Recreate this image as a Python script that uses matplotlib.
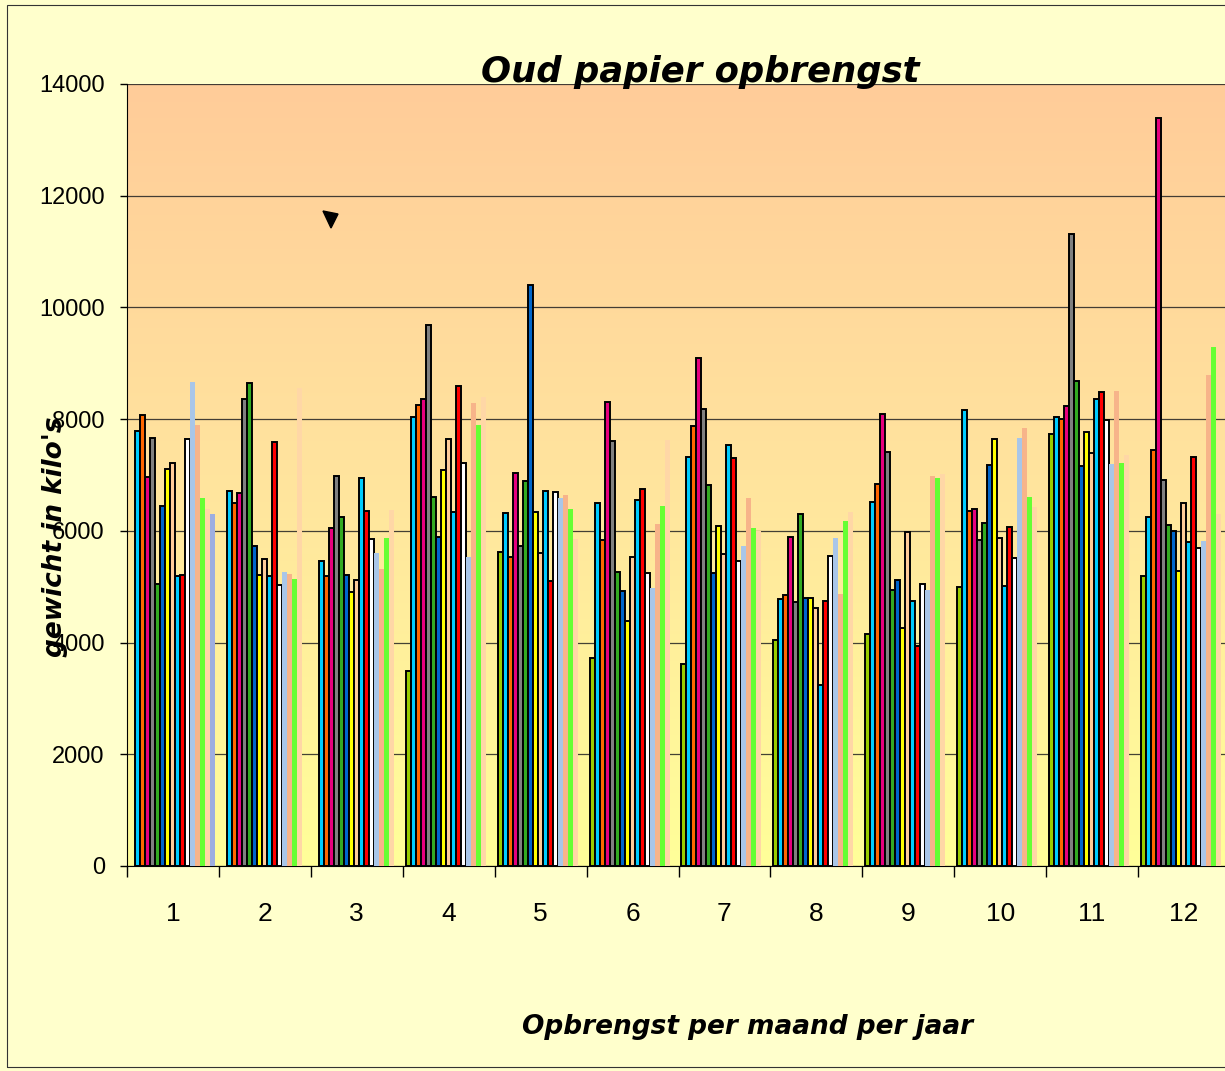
import numpy as np
import matplotlib
matplotlib.use('Agg')
import matplotlib.pyplot as plt
from matplotlib.patches import Polygon, Rectangle
from matplotlib.colors import LinearSegmentedColormap

nan = np.nan
months = ['1', '2', '3', '4', '5', '6', '7', '8', '9', '10', '11', '12']

s01 = [nan, nan, nan, 3500, 5630, 3730, 3610, 4050, 4150, 4990, 7730, 5190]
s02 = [7790, 6710, 5460, 8045, 6315, 6490, 7330, 4780, 6520, 8160, 8030, 6250]
s03 = [8070, 6490, 5200, 8260, 5530, 5840, 7880, 4860, 6840, 6355, 8000, 7450]
s04 = [6970, 6680, 6045, 8360, 7035, 8310, 9100, 5895, 8100, 6385, 8240, 13385]
s05 = [7660, 8355, 6980, 9680, 5720, 7615, 8175, 4720, 7405, 5835, 11310, 6910]
s06 = [5045, 8640, 6250, 6615, 6900, 5270, 6820, 6300, 4940, 6135, 8680, 6105]
s07 = [6445, 5730, 5205, 5890, 10410, 4925, 5240, 4800, 5120, 7180, 7160, 6005]
s08 = [7105, 5210, 4910, 7085, 6335, 4385, 6085, 4800, 4255, 7645, 7770, 5280]
s09 = [7210, 5500, 5120, 7640, 5595, 5540, 5585, 4625, 5980, 5865, 7390, 6505]
s10 = [5185, 5185, 6945, 6330, 6710, 6550, 7535, 3240, 4745, 5020, 8360, 5805]
s11 = [5210, 7590, 6360, 8600, 5105, 6745, 7300, 4745, 3945, 6075, 8480, 7330]
s12 = [7650, 5030, 5855, 7215, 6690, 5240, 5465, 5545, 5050, 5520, 7985, 5690]
s13 = [8660, 5255, 5595, 5530, 6590, 4985, 5735, 5875, 4940, 7655, 7195, 5820]
s14 = [7895, 5220, 5315, 8285, 6635, 6115, 6595, 4865, 6985, 7835, 8510, 8790]
s15 = [6590, 5140, 5880, 7890, 6385, 6450, 6045, 6175, 6950, 6610, 7220, 9300]
s16 = [6395, 8550, 6375, 8405, 5850, 7625, 6000, 6345, 7020, 6435, 7350, 6300]
s17 = [6300, nan, nan, nan, nan, nan, nan, nan, nan, nan, nan, nan]

series = [s01, s02, s03, s04, s05, s06, s07, s08, s09, s10, s11, s12,
          s13, s14, s15, s16, s17]
colors = ['#99CC00', '#00CCFF', '#FF6600', '#E6007E', '#808080', '#33AA22',
          '#0066CC', '#FFFF00', '#FFCC99', '#00CCFF', '#FF0000', '#FFFFFF',
          '#A9C6E8', '#F7B48A', '#66FF33', '#FFD7A6', '#9DAEE0']
edged = [True] * 12 + [False] * 5

W, H = 1225, 1071
fig = plt.figure(figsize=(W / 100, H / 100), dpi=100, facecolor='#FFFFCC')

# outer border
fig.add_artist(Rectangle((7 / W, 1 - 1067 / H), (1240 - 7) / W, (1067 - 5) / H,
                         transform=fig.transFigure, fill=False,
                         edgecolor='#333333', linewidth=0.8))

ax = fig.add_axes([127 / W, (H - 866) / H, 1103 / W, (866 - 84) / H])
grad = np.linspace(0, 1, 256).reshape(-1, 1)
cmap = LinearSegmentedColormap.from_list('g', ['#FFFF99', '#FFE49E', '#FFCC99'])
ax.imshow(grad, extent=[0, 1, 0, 1], transform=ax.transAxes, origin='lower',
          cmap=cmap, aspect='auto', zorder=-1)

x = np.arange(len(months))
bw = 5 / 92
start = -0.5 + 3 / 92
for i, (vals, c, e) in enumerate(zip(series, colors, edged)):
    ax.bar(x + start + bw * (i + 0.5), vals, width=bw, color=c,
           edgecolor='black' if e else 'none', linewidth=1.4 if e else 0,
           zorder=3)

ax.set_xlim(-0.5, 11.5)
ax.set_ylim(0, 14000)
ax.set_yticks(range(0, 14001, 2000))
ax.yaxis.grid(True, color='#222222', linewidth=0.9, alpha=0.85, zorder=0)
ax.set_axisbelow(True)
for s in ['top', 'right']:
    ax.spines[s].set_visible(False)
ax.spines['left'].set_color('black')
ax.spines['bottom'].set_color('black')

ax.set_xticks(x)
ax.set_xticklabels(months, fontsize=19, family='Liberation Sans')
ax.set_xticks(np.arange(-0.5, 12, 1), minor=True)
ax.tick_params(axis='x', which='major', length=0, pad=26)
ax.tick_params(axis='x', which='minor', length=8, width=1, color='black')
ax.tick_params(axis='y', length=5, width=1, pad=11)
for lab in ax.get_yticklabels():
    lab.set_fontsize(17)
    lab.set_family('Liberation Sans')

fig.text(700 / W, 1 - 72 / H, 'Oud papier opbrengst', ha='center', va='center',
         fontsize=25.5, fontweight='bold', fontstyle='italic', family='DejaVu Sans')
fig.text(55 / W, 1 - 537 / H, "gewicht in kilo's", ha='center', va='center',
         rotation=90, fontsize=19, fontweight='bold', fontstyle='italic',
         family='DejaVu Sans')
fig.text(748 / W, 1 - 1027 / H, 'Opbrengst per maand per jaar', ha='center',
         va='center', fontsize=19, fontweight='bold', fontstyle='italic',
         family='DejaVu Sans')

# small cursor-like triangle in the plot area
tri = [(323, 211), (338, 214), (331, 228)]
fig.add_artist(Polygon([(px / W, 1 - py / H) for px, py in tri], closed=True,
                       transform=fig.transFigure, facecolor='black',
                       edgecolor='black'))

fig.savefig('out.png', dpi=100, facecolor=fig.get_facecolor())
